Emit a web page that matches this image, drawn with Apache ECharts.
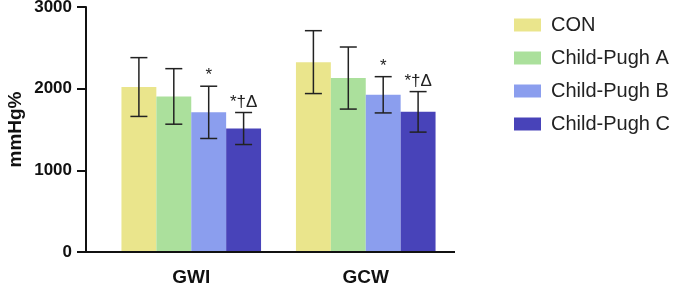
<!DOCTYPE html>
<html>
<head>
<meta charset="utf-8">
<script src="https://cdn.jsdelivr.net/npm/echarts@6/dist/echarts.min.js"></script>
<style>
  html, body { margin: 0; padding: 0; background: #fff; }
  #chart { width: 675px; height: 290px; }
</style>
</head>
<body>
<div id="chart"></div>
<script>
  let categories = ['GWI', 'GCW']
  let groups = ['CON', 'Child-Pugh A', 'Child-Pugh B', 'Child-Pugh C']
  let colors = ['#EAE58C', '#ABE09C', '#8B9EEE', '#4843B9']

  // mean and SD per group, order: GWI, GCW
  let conMean = [2020, 2325]
  let conSd = [360, 385]
  let aMean = [1905, 2130]
  let aSd = [340, 380]
  let bMean = [1710, 1925]
  let bSd = [320, 222]
  let cMean = [1512, 1716]
  let cSd = [196, 248]

  let conSig = ['', '']
  let aSig = ['', '']
  let bSig = ['*', '*']
  let cSig = ['*†Δ', '*†Δ']

  let yTicks = [0, 1000, 2000, 3000]

  let means = [conMean, aMean, bMean, cMean]
  let sds = [conSd, aSd, bSd, cSd]
  let sigs = [conSig, aSig, bSig, cSig]

  let catGap = 0.2
  let font = '"Liberation Sans", Arial, sans-serif'

  function errorSeries (g) {
    return {
      type: 'custom',
      z: 5,
      silent: true,
      data: categories.map(function (c, i) {
        return [i, means[g][i], sds[g][i]]
      }),
      renderItem: function (params, api) {
        let band = api.size([1, 0])[0]
        let barW = band * (1 - catGap) / groups.length
        let center = api.coord([api.value(0), 0])[0]
        let x = center + (g - (groups.length - 1) / 2) * barW
        let m = api.value(1)
        let sd = api.value(2)
        let top = api.coord([api.value(0), m + sd])[1]
        let bot = api.coord([api.value(0), m - sd])[1]
        let half = 8.5
        let style = { stroke: '#222', lineWidth: 1.5 }
        let children = [
          { type: 'line', shape: { x1: x, y1: top, x2: x, y2: bot }, style: style },
          { type: 'line', shape: { x1: x - half, y1: top, x2: x + half, y2: top }, style: style },
          { type: 'line', shape: { x1: x - half, y1: bot, x2: x + half, y2: bot }, style: style }
        ]
        let sig = sigs[g][params.dataIndex]
        if (sig) {
          children.push({
            type: 'text',
            style: {
              x: x,
              y: top - 2,
              text: sig,
              align: 'center',
              verticalAlign: 'bottom',
              fill: '#222',
              font: '17px ' + font
            }
          })
        }
        return { type: 'group', children: children }
      }
    }
  }

  let series = []
  groups.forEach(function (name, g) {
    series.push({
      name: name,
      type: 'bar',
      data: means[g],
      barGap: 0,
      barCategoryGap: (catGap * 100) + '%',
      itemStyle: { color: colors[g] }
    })
  })
  groups.forEach(function (name, g) {
    series.push(errorSeries(g))
  })

  let chart = echarts.init(document.getElementById('chart'))
  let option = {
    animation: false,
    textStyle: { fontFamily: font },
    grid: {
      left: 104,
      right: 222,
      top: 7,
      bottom: 38,
      containLabel: false,
      outerBoundsMode: 'none'
    },
    legend: {
      data: groups,
      orient: 'vertical',
      left: 509,
      top: 10,
      itemWidth: 27,
      itemHeight: 13,
      itemGap: 13,
      icon: 'rect',
      textStyle: {
        fontFamily: font,
        fontSize: 20,
        color: '#222',
        padding: [0, 0, 0, 5]
      }
    },
    xAxis: {
      type: 'category',
      data: categories,
      axisLine: { show: false },
      axisTick: {
        alignWithLabel: true,
        length: 8,
        lineStyle: { color: '#111', width: 2 }
      },
      axisLabel: {
        margin: 16,
        fontFamily: font,
        fontSize: 19,
        fontWeight: 'bold',
        color: '#111'
      }
    },
    yAxis: {
      type: 'value',
      min: yTicks[0],
      max: yTicks[yTicks.length - 1],
      interval: 1000,
      offset: 18,
      name: 'mmHg%',
      nameLocation: 'middle',
      nameGap: 61,
      nameMoveOverlap: false,
      nameTextStyle: {
        fontFamily: font,
        fontSize: 19,
        fontWeight: 'bold',
        color: '#111'
      },
      splitLine: { show: false },
      axisLine: {
        show: true,
        lineStyle: { color: '#111', width: 2 }
      },
      axisTick: {
        show: true,
        length: 9,
        lineStyle: { color: '#111', width: 2 }
      },
      axisLabel: {
        margin: 14,
        fontFamily: font,
        fontSize: 17,
        fontWeight: 'bold',
        color: '#111',
        formatter: function (v) { return String(v) }
      }
    },
    graphic: [{
      type: 'line',
      shape: { x1: 85, y1: 252, x2: 455, y2: 252 },
      style: { stroke: '#111', lineWidth: 2 },
      z: 10
    }],
    series: series
  }
  chart.setOption(option)
</script>
</body>
</html>
